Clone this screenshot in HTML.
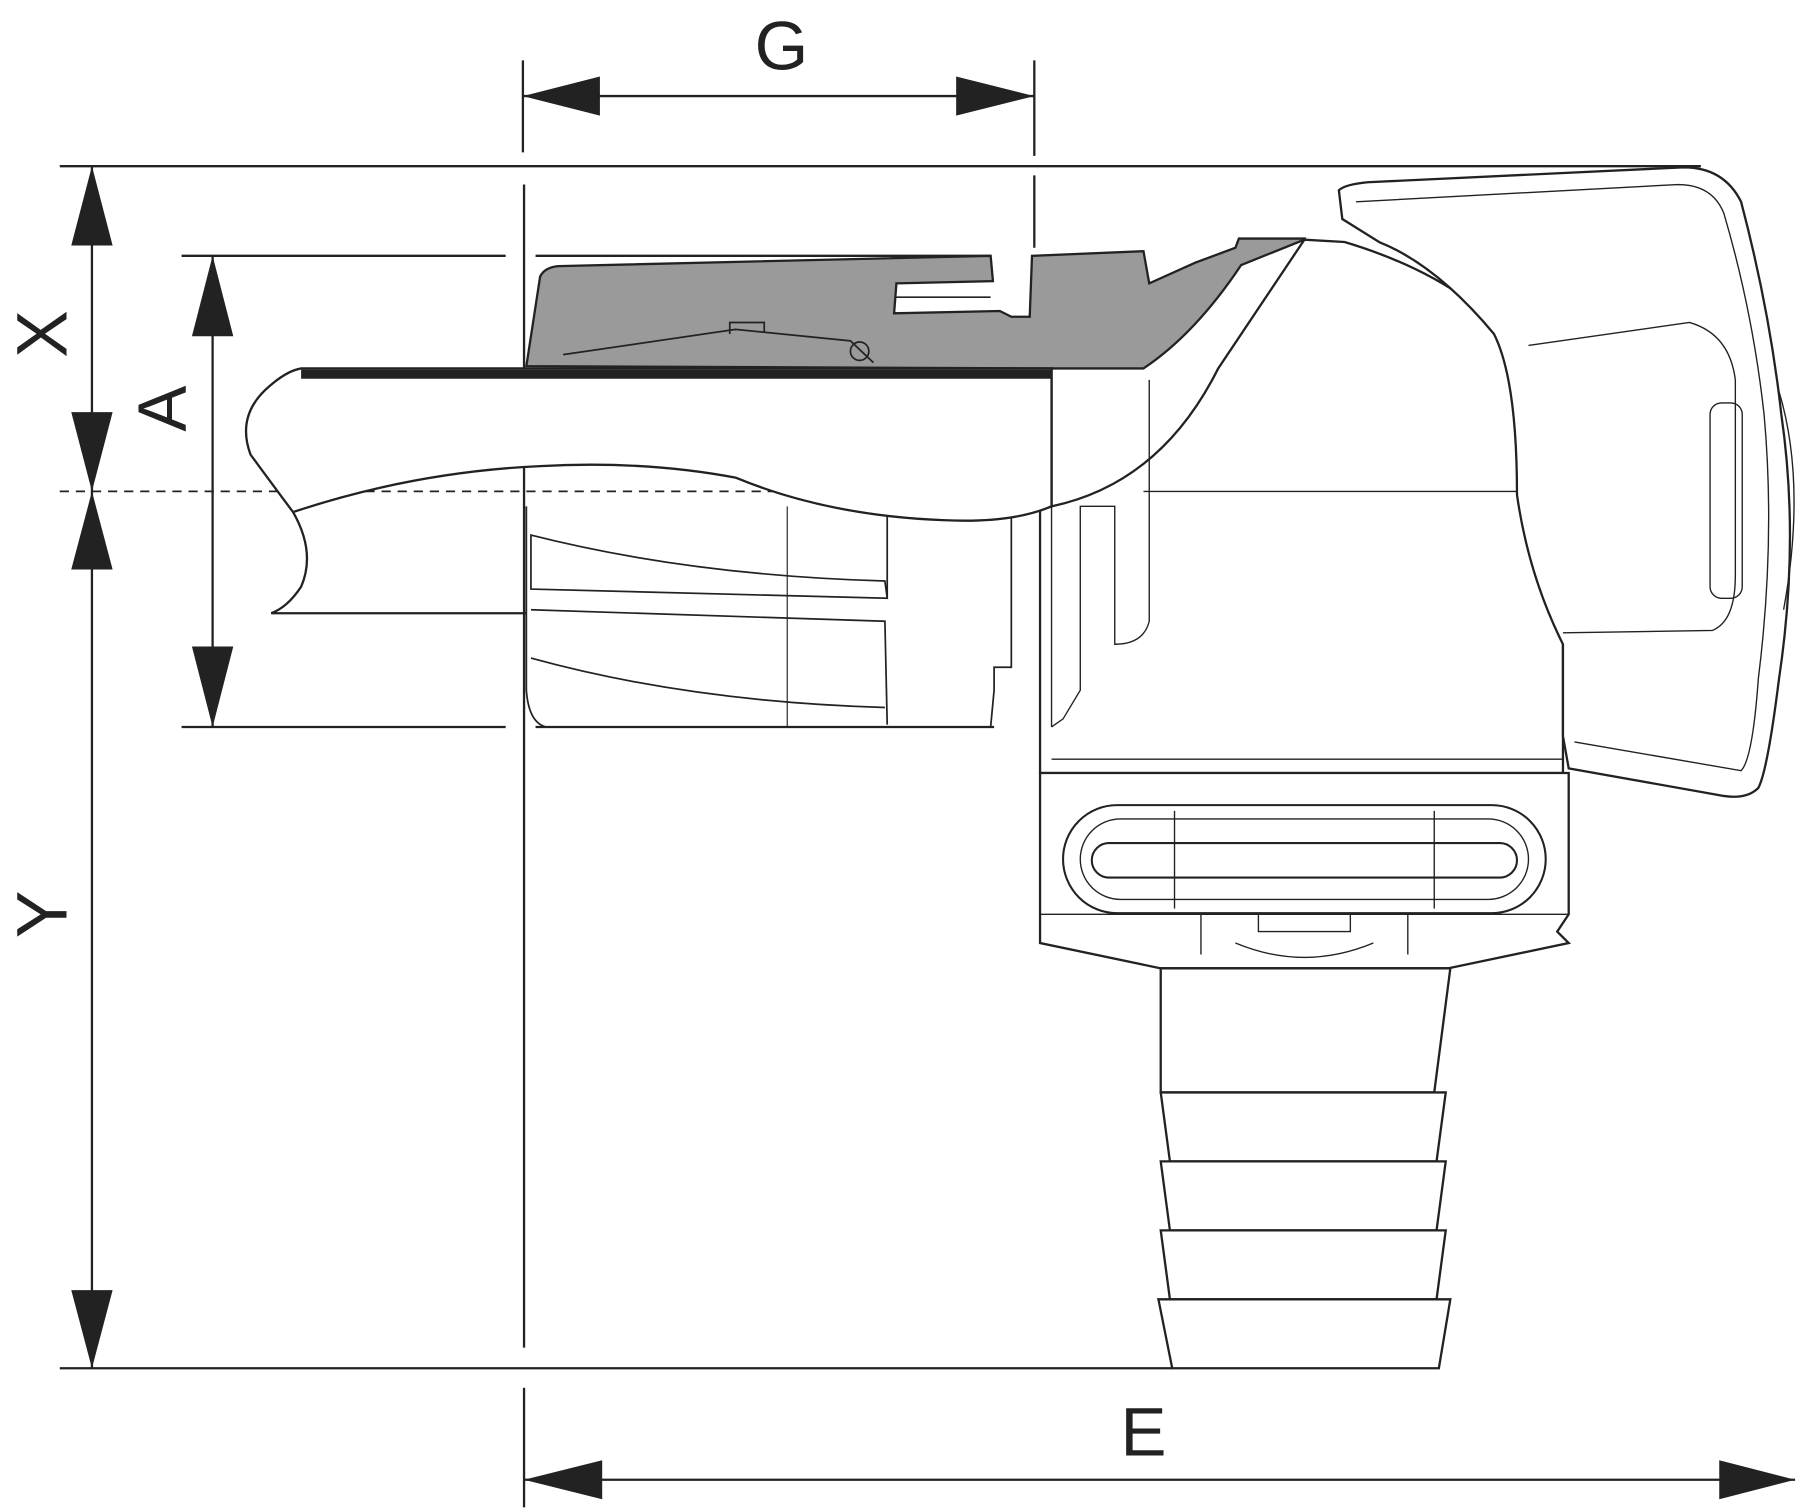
<!DOCTYPE html>
<html><head><meta charset="utf-8"><style>
html,body{margin:0;padding:0;background:#fff;}
svg{display:block}
text{font-family:"Liberation Sans",sans-serif;fill:#222;}
</style></head><body>
<svg width="1802" height="1508" viewBox="0 0 1568 1311" xmlns="http://www.w3.org/2000/svg">
<g stroke="#222" fill="none" stroke-width="2">
<line x1="52" y1="144" x2="1480" y2="144"/>
<line x1="52" y1="1190" x2="1020" y2="1190"/>
<line x1="158" y1="222" x2="440" y2="222"/>
<line x1="466" y1="222" x2="862" y2="222"/>
<line x1="158" y1="632" x2="440" y2="632"/>
<line x1="466" y1="632" x2="865" y2="632"/>
<line x1="455" y1="52" x2="455" y2="132"/>
<line x1="900" y1="52" x2="900" y2="135"/>
<line x1="900" y1="152" x2="900" y2="215"/>
<line x1="456" y1="160" x2="456" y2="1172"/>
<line x1="456" y1="1207" x2="456" y2="1311"/>
<line x1="455" y1="83" x2="900" y2="83"/>
<line x1="456" y1="1287" x2="1562" y2="1287"/>
<line x1="80" y1="144" x2="80" y2="1190"/>
<line x1="185" y1="222" x2="185" y2="632"/>
<line x1="52" y1="427" x2="915" y2="427" stroke-dasharray="8,6" stroke-width="1.5"/>
</g>
<g fill="#222">
<polygon points="455,83 522,66 522,100"/>
<polygon points="900,83 832,66 832,100"/>
<polygon points="456,1287 524,1270 524,1304"/>
<polygon points="1562,1287 1496,1270 1496,1304"/>
<polygon points="80,144 62,213 98,213"/>
<polygon points="80,427 62,358 98,358"/>
<polygon points="80,427 62,495 98,495"/>
<polygon points="80,1190 62,1122 98,1122"/>
<polygon points="185,222 167,292 203,292"/>
<polygon points="185,632 167,562 203,562"/>
</g>
<text x="680" y="60" font-size="60" text-anchor="middle">G</text>
<text x="995" y="1266" font-size="60" text-anchor="middle">E</text>
<text transform="translate(58,290) rotate(-90)" font-size="62" text-anchor="middle">X</text>
<text transform="translate(58,795) rotate(-90)" font-size="62" text-anchor="middle">Y</text>
<text transform="translate(162,355) rotate(-90)" font-size="60" text-anchor="middle">A</text>

<path d="M458,318 L470,240 Q474,232 486,231 L862,222 L864,244 L780,246 L778,272 L870,270 L880,275 L896,275 L898,222 L995,218 L1000,246 L1040,228 L1075,215 L1078,207 L1135,207 L1085,290 L1050,320 L1000,328 L915,328 L915,320 Z" fill="#9a9a9a" stroke="#222" stroke-width="2"/>
<path d="M490,308 L640,286 L740,296 L760,315" fill="none" stroke="#222" stroke-width="1.5"/>
<path d="M635,290 L635,280 L665,280 L665,288" fill="none" stroke="#222" stroke-width="1.5"/>
<circle cx="748" cy="305" r="8" fill="none" stroke="#222" stroke-width="1.5"/>
<line x1="780" y1="258" x2="862" y2="258" stroke="#222" stroke-width="1.5"/>

<g stroke="#222" fill="#fff" stroke-width="2">
<path d="M915,320 L995,320 Q1040,290 1080,230 L1135,208 L1170,210 Q1270,240 1320,300 Q1360,360 1360,450 L1360,665 L1360,672 L905,672 L905,440 L915,440 Z"/>
<path d="M905,672 L1365,672 L1365,795 L1355,810 L1365,820 L1260,842 L1010,842 L905,820 Z"/>
</g>
<g stroke="#222" fill="none" stroke-width="1.2">
<path d="M915,632 L915,440"/>
<path d="M1000,330 L1000,540 Q995,560 970,560 L970,440 L940,440 L940,600 L925,625 L915,632"/>
<line x1="995" y1="427" x2="1360" y2="427"/>
<line x1="915" y1="660" x2="1360" y2="660"/>
<line x1="905" y1="795" x2="1365" y2="795"/>
<path d="M1045,795 L1045,830 M1225,795 L1225,830 M1095,795 L1095,810 L1175,810 L1175,795"/>
<path d="M1075,820 Q1135,845 1195,820"/>
<rect x="925" y="700" width="420" height="94" rx="47" stroke-width="1.8"/>
<rect x="940" y="712" width="390" height="70" rx="35"/>
<rect x="950" y="733" width="370" height="30" rx="15" stroke-width="1.8"/>
<line x1="1022" y1="705" x2="1022" y2="790"/>
<line x1="1248" y1="705" x2="1248" y2="790"/>
</g>
<g stroke="#222" fill="none" stroke-width="1.5">
<path d="M458,440 L458,600 Q460,628 475,632 L862,632 L865,600 L865,580 L880,580 L880,440"/>
<path d="M462,465 Q600,500 770,505 L772,520 L462,512 Z"/>
<path d="M462,530 L770,540 L772,630 M462,572 Q600,610 770,615"/>
<line x1="685" y1="440" x2="685" y2="632" stroke-width="1"/>
<path d="M772,440 L772,520"/>
</g>

<path d="M1165,165 Q1170,160 1190,158 L1465,145 Q1500,145 1515,175 Q1540,270 1550,360 Q1566,470 1548,590 Q1538,670 1530,685 Q1520,695 1500,692 L1365,668 L1360,640 L1360,560 Q1330,500 1320,430 Q1320,330 1300,290 Q1250,230 1200,210 L1168,190 Z" fill="#fff" stroke="#222" stroke-width="2"/>
<g stroke="#222" fill="none" stroke-width="1.2">
<path d="M1180,175 L1460,160 Q1490,160 1500,185 Q1525,270 1535,360 Q1545,470 1530,590 Q1525,660 1515,670 L1370,645"/>
<path d="M1330,300 L1470,280 Q1505,290 1510,330 L1510,500 Q1510,540 1490,548 L1360,550"/>
<rect x="1488" y="350" width="28" height="170" rx="10"/>
<path d="M1548,340 Q1572,420 1552,530"/>
</g>

<path d="M262,320 L915,320 L915,440 Q880,455 820,452 Q720,448 640,415 Q560,400 470,405 Q360,410 255,445 Q240,425 218,395 Q205,360 235,335 Q250,322 262,320 Z" fill="#fff" stroke="#222" stroke-width="2"/>
<line x1="262" y1="325" x2="915" y2="325" stroke="#222" stroke-width="8"/>
<path d="M255,445 Q275,480 262,510 Q250,528 236,533 L458,533" fill="none" stroke="#222" stroke-width="2"/>
<path d="M915,440 Q1010,420 1060,320 L1135,208" fill="none" stroke="#222" stroke-width="2"/>

<g stroke="#222" fill="#fff" stroke-width="2">
<path d="M1010,842 L1262,842 L1248,950 L1010,950 Z"/>
<path d="M1010,950 L1258,950 L1250,1010 L1018,1010 Z"/>
<path d="M1010,1010 L1258,1010 L1250,1070 L1018,1070 Z"/>
<path d="M1010,1070 L1258,1070 L1250,1130 L1018,1130 Z"/>
<path d="M1008,1130 L1262,1130 L1252,1190 L1020,1190 Z"/>
</g>
</svg>
</body></html>
